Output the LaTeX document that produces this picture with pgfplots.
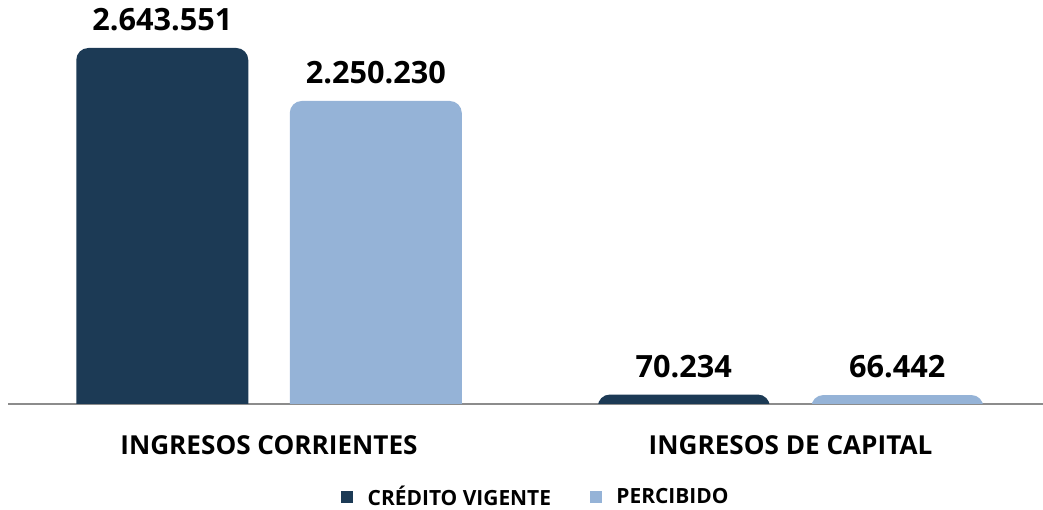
\documentclass[border=0pt]{standalone}
\usepackage{fontspec}
\setmainfont{Open Sans}
\usepackage{pgfplots}
\usepackage{pgfplotstable}
\pgfplotsset{compat=1.18}

\definecolor{credito}{HTML}{1C3A55}
\definecolor{percibido}{HTML}{95B3D7}
\definecolor{eje}{HTML}{8C8C8C}

% values in pesos; label column holds the printed value
\pgfplotstableread{
x y label
0 2643551 2.643.551
1 70234 70.234
}\credito
\pgfplotstableread{
x y label
0 2250230 2.250.230
1 66442 66.442
}\percibido

% bars are lifted by \base so that their rounded bottom corners fall below the clip line
\def\base{148514}

\begin{document}
\begin{tikzpicture}
  \begin{axis}[
    name=ax,
    scale only axis,
    width=776.25pt,
    height=318pt,
    xmin=-0.5005, xmax=1.484,
    ymin=0, ymax=3148514,
    enlargelimits=false,
    axis x line*=bottom,
    axis y line*=left,
    axis line style={draw=none},
    xtick={0,1},
    xticklabels={INGRESOS CORRIENTES, INGRESOS DE CAPITAL},
    major tick length=0pt,
    xticklabel style={font=\fontsize{19.6}{22}\selectfont\bfseries, anchor=north, inner sep=0pt, yshift=-8.25pt},
    ytick=\empty,
    extra y ticks={148514},
    extra y tick labels={},
    extra y tick style={grid=major, major grid style={draw=eje, line width=1.5pt}},
    ybar,
    bar width=0.3298,
    nodes near coords,
    point meta=explicit symbolic,
    every node near coord/.append style={font=\fontsize{23}{26}\selectfont\bfseries, text=black, anchor=south, inner sep=0pt, yshift=12.5pt},
    legend image code/.code={\fill[#1, sharp corners] (0pt,-4.5pt) rectangle (9pt,4.5pt);},
    legend style={at={(0.509,-0.1722)}, anchor=center, draw=none, fill=none,
      font=\fontsize{15.7}{18}\selectfont\bfseries, inner sep=0pt,
      nodes={inner sep=0pt},
      /tikz/every odd column/.append style={column sep=11pt},
      /tikz/every even column/.append style={column sep=29pt}},
    legend columns=2,
  ]
    \begin{scope}
      \clip (rel axis cs:0,0.04717) rectangle (rel axis cs:1,1);
      \addplot[fill=credito, draw=none, rounded corners=9pt, bar shift=-0.2047]
        table[x=x, y expr=\thisrow{y}+\base, meta=label] {\credito};
      \addlegendentry{CRÉDITO VIGENTE}
      \addplot[fill=percibido, draw=none, rounded corners=9pt, bar shift=0.2047]
        table[x=x, y expr=\thisrow{y}+\base, meta=label] {\percibido};
      \addlegendentry{PERCIBIDO}
    \end{scope}
  \end{axis}
  \pgfresetboundingbox
  \path[use as bounding box] ([xshift=-6pt,yshift=-64.5pt]ax.south west) rectangle (ax.north east);
\end{tikzpicture}
\end{document}
